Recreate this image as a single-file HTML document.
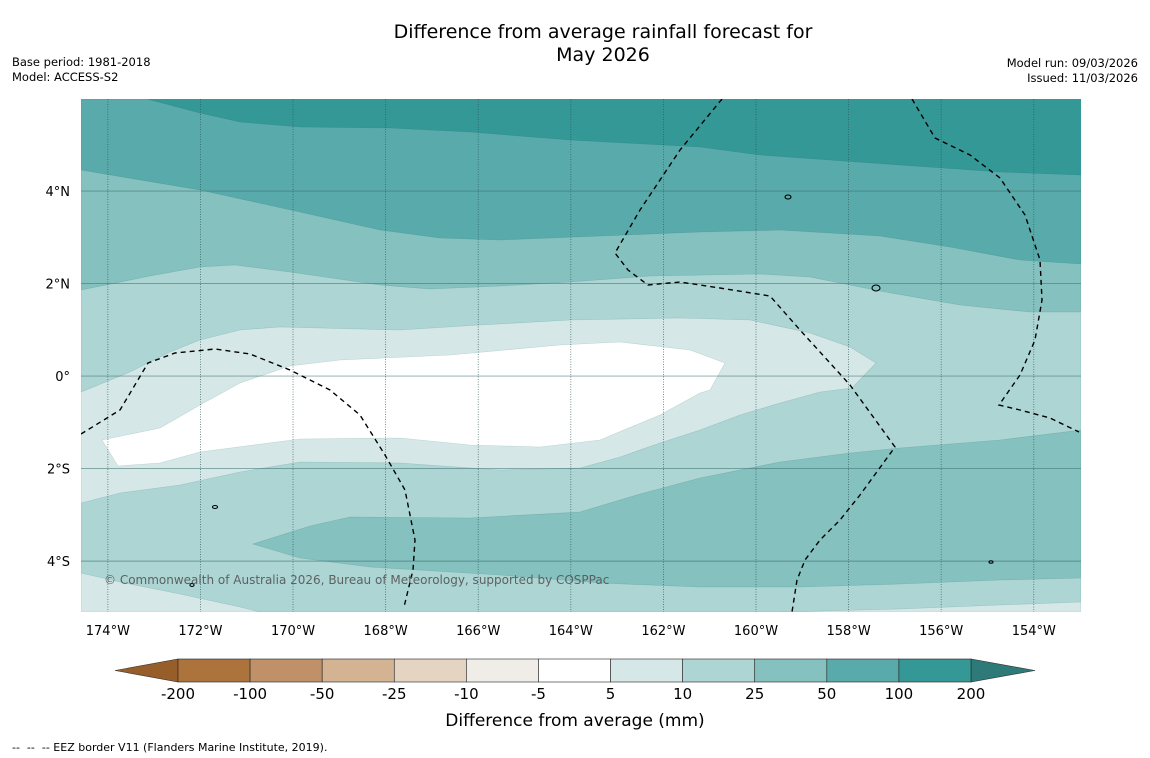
<!DOCTYPE html>
<html><head><meta charset="utf-8">
<style>
body{margin:0;background:#fff;width:1150px;height:758px;overflow:hidden;font-family:"DejaVu Sans","Liberation Sans",sans-serif;}
svg{display:block}
</style></head>
<body>
<svg id="chart" width="1150" height="758" viewBox="0 0 1150 758">
<text x="603" y="38" font-size="19" text-anchor="middle">Difference from average rainfall forecast for</text>
<text x="603" y="61" font-size="19" text-anchor="middle">May 2026</text>
<text x="12" y="66" font-size="11.5">Base period: 1981-2018</text>
<text x="12" y="81" font-size="11.5">Model: ACCESS-S2</text>
<text x="1138" y="67" font-size="11.5" text-anchor="end">Model run: 09/03/2026</text>
<text x="1138" y="82" font-size="11.5" text-anchor="end">Issued: 11/03/2026</text>
<defs><clipPath id="pc"><rect x="81" y="99" width="1000" height="513"/></clipPath></defs>
<g id="map" clip-path="url(#pc)"></g>
<g id="axes"></g>
<text x="104" y="584" font-size="12" fill="#555" opacity="0.9">© Commonwealth of Australia 2026, Bureau of Meteorology, supported by COSPPac</text>
<g id="cbar"></g>
<text x="575" y="726" font-size="17" text-anchor="middle">Difference from average (mm)</text>
<text x="12" y="751" font-size="11">--&#160; --&#160; -- EEZ border V11 (Flanders Marine Institute, 2019).</text>
</svg>
<script>
const NS='http://www.w3.org/2000/svg';
const levels=['-200','-100','-50','-25','-10','-5','5','10','25','50','100','200'];
const binColors=['#ad733d','#c09168','#d4b393','#e6d4c3','#f0ece8','#ffffff','#d5e8e7','#acd5d4','#84c1bf','#59aaaa','#339896'];
const extendColors=['#985e2a','#2e7a78'];
const lonTicks=[-174,-172,-170,-168,-166,-164,-162,-160,-158,-156,-154];
const latTicks=[4,2,0,-2,-4];
const lonMin=-174.58, lonMax=-152.98, latMax=5.99, latMin=-5.10;
const X0=81,X1=1081,Y0=99,Y1=612;
function xs(l){return X0+(l-lonMin)/(lonMax-lonMin)*(X1-X0);}
function ys(l){return Y0+(latMax-l)/(latMax-latMin)*(Y1-Y0);}
function mk(t,a,p){const e=document.createElementNS(NS,t);for(const k in a)e.setAttribute(k,a[k]);(p||document.getElementById('map')).appendChild(e);return e;}
function pts(a){return a.map(p=>p.join(',')).join(' ');}
let r=mk('rect',{x:81,y:99,width:1000,height:513,fill:binColors[10]});


const regions=[
 [9,'region-50-100',[[81,99],[147,99],[200,113],[240,122],[300,127],[390,128],[470,132],[570,140],[700,147],[760,155],[900,165],[1000,172],[1081,175],[1081,612],[81,612]]],
 [8,'region-25-50',[[81,170],[200,190],[300,212],[380,230],[440,238],[500,240],[600,236],[700,232],[780,230],[880,236],[950,247],[1020,260],[1081,264],[1081,612],[81,612]]],
 [7,'region-10-25',[[81,290],[150,276],[200,267],[235,265],[290,272],[380,285],[430,289],[500,286],[570,282],[650,276],[760,274],[810,277],[880,291],[960,305],[1030,312],[1081,312],[1081,612],[81,612]]],
 [8,'region-25-50-south',[[1081,430],[1000,440],[900,448],[850,453],[780,462],[700,478],[640,494],[580,512],[470,518],[350,517],[310,526],[253,544],[300,558],[370,567],[500,575],[600,583],[700,587],[800,587],[900,584],[1000,580],[1081,578]]],
 [6,'region-5-10',[[81,392],[130,372],[170,352],[200,340],[240,330],[280,327],[400,330],[480,325],[570,320],[680,318],[750,320],[810,333],[850,347],[876,363],[852,388],[820,392],[780,403],[740,415],[700,430],[660,443],[620,457],[580,468],[500,470],[400,463],[300,462],[240,472],[180,485],[120,493],[81,503]]],
 [6,'region-5-10-sw',[[81,573],[120,582],[180,594],[240,607],[260,612],[81,612]]],
 [6,'region-5-10-se',[[780,612],[900,609],[1000,605],[1081,602],[1081,612]]],
 [5,'region-minus5-5',[[102,440],[160,428],[200,405],[240,383],[290,366],[340,360],[450,355],[560,345],[620,342],[690,350],[725,363],[710,390],[700,393],[660,415],[600,440],[540,447],[470,445],[400,438],[300,439],[200,452],[160,463],[118,466]]]
];
for(const [ci,nm,p] of regions){
 const e=mk('polygon',{points:pts(p),fill:binColors[ci],stroke:'rgba(0,80,80,0.18)','stroke-width':0.6});
 
 
}
for(const l of lonTicks){
 const e=mk('line',{x1:xs(l),x2:xs(l),y1:Y0,y2:Y1,stroke:'#2a5555','stroke-width':0.8,'stroke-dasharray':'1,1.5',opacity:0.8});
 
 
}
for(const l of latTicks){
 const e=mk('line',{x1:X0,x2:X1,y1:ys(l),y2:ys(l),stroke:'#3c6e6e','stroke-width':0.9,opacity:0.6});
 
 
}
const eez=[
 [[81,434],[120,410],[148,363],[175,353],[215,349],[250,354],[290,370],[330,390],[360,415],[385,455],[405,490],[415,540],[413,570],[404,607]],
 [[722,99],[680,150],[640,210],[615,253],[628,270],[648,285],[680,282],[720,288],[770,296],[800,330],[850,385],[895,447],[860,495],[840,520],[820,540],[805,560],[797,580],[792,612]],
 [[912,99],[935,138],[970,155],[1000,178],[1025,215],[1040,260],[1042,300],[1035,340],[1020,375],[999,405],[1020,410],[1050,418],[1079,432]]
];
for(const p of eez){
 const e=mk('polyline',{points:pts(p),fill:'none',stroke:'#000','stroke-width':1.4,'stroke-dasharray':'5,4'});
 
 
}
for(const [x,y,rx,ry] of [[788,197,3,2],[876,288,4,3],[215,507,2.5,1.5],[192,585,2,1.5],[991,562,2,1.2]]){
 const e=mk('ellipse',{cx:x,cy:y,rx:rx,ry:ry,fill:'none',stroke:'#000','stroke-width':1.1});
 
 
}
const ax=document.getElementById('axes');
for(const l of lonTicks){
 const t=mk('text',{x:xs(l),y:635,'font-size':13,'text-anchor':'middle'},ax);t.textContent=Math.abs(l)+'°W';
 
 
}
for(const l of latTicks){
 const t=mk('text',{x:70,y:ys(l)+5,'font-size':13,'text-anchor':'end'},ax);t.textContent=l===0?'0°':Math.abs(l)+'°'+(l>0?'N':'S');
 
 
}
const cb=document.getElementById('cbar');
const cbL=178,cbR=971,cbT=659,cbB=682,segW=(cbR-cbL)/binColors.length;
let e=mk('polygon',{points:`115,670.5 ${cbL},${cbT} ${cbL},${cbB}`,fill:extendColors[0],stroke:'#333','stroke-width':0.6},cb);


e=mk('polygon',{points:`1035,670.5 ${cbR},${cbT} ${cbR},${cbB}`,fill:extendColors[1],stroke:'#333','stroke-width':0.6},cb);


binColors.forEach((c,i)=>{
 const s=mk('rect',{x:cbL+i*segW,y:cbT,width:segW,height:cbB-cbT,fill:c,stroke:'#222','stroke-width':0.6},cb);
 
 
});
levels.forEach((lv,i)=>{
 const t=mk('text',{x:cbL+i*segW,y:699,'font-size':15,'text-anchor':'middle'},cb);t.textContent=lv;
 
 
});
</script>
</body></html>
